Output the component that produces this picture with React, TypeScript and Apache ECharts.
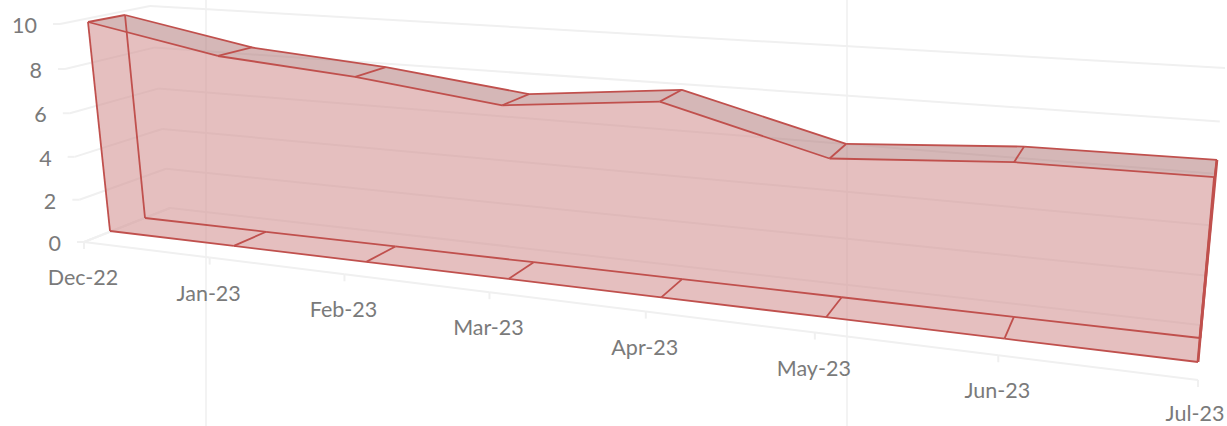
import React, { useEffect, useRef } from "react";
import * as echarts from "echarts";

const categories = ["Dec-22", "Jan-23", "Feb-23", "Mar-23", "Apr-23", "May-23", "Jun-23", "Jul-23"];
const frontValues = [10, 8.84, 8.35, 7.6, 8.25, 6.5, 6.95, 7.0];
const yTicks = [0, 2, 4, 6, 8, 10];
const yMax = 10;

const W = 1227;
const H = 426;
type P = [number, number];
// Perspective planes: corners at (first category, 0), (last, 0), (last, max), (first, max)
const frontQuad: P[] = [[110, 231], [1198, 362], [1222, 94], [88, 22]];
const backQuad: P[] = [[145, 218], [1200, 338], [1224.5, 80], [125, 15]];
const wallQuad: P[] = [[170, 208], [1200, 325], [1225, 68], [150, 6]];
const axisQuad: P[] = [[84, 242], [1198, 380], [1225, 98], [60, 24]];
const verticalRules = [206, 847];

const RED = "#c0504d";
const GRID = "#f0f0f0";
const TEXT = "#7a7a7a";
const FONT = "Lato";

function plane(q: P[]) {
  const [[x0, y0], [x1, y1], [x2, y2], [x3, y3]] = q;
  const dx1 = x1 - x2, dx2 = x3 - x2, dx3 = x0 - x1 + x2 - x3;
  const dy1 = y1 - y2, dy2 = y3 - y2, dy3 = y0 - y1 + y2 - y3;
  const den = dx1 * dy2 - dx2 * dy1;
  const g = (dx3 * dy2 - dx2 * dy3) / den;
  const h = (dx1 * dy3 - dx3 * dy1) / den;
  const a = x1 - x0 + g * x1, b = x3 - x0 + h * x3;
  const d = y1 - y0 + g * y1, e = y3 - y0 + h * y3;
  // input is a pixel of the flat hidden grid
  return (p: number[]): P => {
    const s = p[0] / W;
    const t = 1 - p[1] / H;
    const w = g * s + h * t + 1;
    return [(a * s + b * t + x0) / w, (d * s + e * t + y0) / w];
  };
}
const front = plane(frontQuad);
const back = plane(backQuad);
const wall = plane(wallQuad);
const axis = plane(axisQuad);

const line = (p: P, q: P, stroke: string, lineWidth: number) => ({
  type: "line",
  shape: { x1: p[0], y1: p[1], x2: q[0], y2: q[1] },
  style: { stroke, lineWidth, fill: "none" },
  silent: true,
});
const poly = (points: P[], fill: string) => ({
  type: "polygon",
  shape: { points },
  style: { fill, stroke: "none" },
  silent: true,
});
const label = (text: string, x: number, y: number, align: string) => ({
  type: "text",
  style: { text, x, y, fill: TEXT, fontFamily: FONT, fontSize: 21.5, align, verticalAlign: "middle" },
  silent: true,
});

export default function App() {
  const ref = useRef<HTMLDivElement>(null);
  useEffect(() => {
    document.body.style.margin = "0";
    const chart = echarts.init(ref.current!, undefined, { renderer: "svg" });
    const last = categories.length - 1;
    chart.setOption({
      animation: false,
      backgroundColor: "#ffffff",
      grid: { left: 0, right: 0, top: 0, bottom: 0 },
      xAxis: { type: "category", data: categories, boundaryGap: false, show: false },
      yAxis: { type: "value", min: 0, max: yMax, interval: 2, show: false },
      graphic: verticalRules.map((x) => ({
        type: "line",
        z: 0,
        shape: { x1: x, y1: 0, x2: x, y2: H },
        style: { stroke: "#f3f3f3", lineWidth: 2 },
        silent: true,
      })),
      series: [
        {
          name: "value gridlines",
          type: "custom",
          z: 1,
          silent: true,
          clip: false,
          encode: { x: 0, y: 1 },
          data: yTicks.map((v) => [0, v]),
          renderItem: (_p: any, api: any) => {
            const v = api.value(1);
            const left = api.coord([0, v]);
            const right = api.coord([last, v]);
            const a = axis(left);
            return {
              type: "group",
              children: [
                line(wall(left), wall(right), GRID, 2),
                line(a, wall(left), GRID, 2),
                line([a[0] - 7, a[1]], a, GRID, 2),
                label(String(v), a[0] - 23, a[1] + 1, "right"),
              ],
            };
          },
        },
        {
          name: "category axis",
          type: "custom",
          z: 1,
          silent: true,
          clip: false,
          encode: { x: 0, y: 1 },
          data: categories.map((_c, i) => [i, 0]),
          renderItem: (p: any, api: any) => {
            const i = api.value(0);
            const here = axis(api.coord([i, 0]));
            const children: any[] = [
              line(here, [here[0], here[1] + 7], GRID, 2),
              label(categories[i], here[0] - (i === last ? 3 : 1), here[1] + (i === last ? 33 : 35), "center"),
            ];
            if (i < last) children.push(line(here, axis(api.coord([i + 1, 0])), GRID, 2));
            if (i === 0) children.push(line(here, wall(api.coord([0, 0])), GRID, 2));
            return { type: "group", children };
          },
        },
        {
          name: "Series",
          type: "custom",
          z: 3,
          silent: true,
          clip: false,
          encode: { x: 0, y: 1 },
          data: frontValues.map((v, i) => [i, v]),
          renderItem: (p: any, api: any) => {
            const i = api.value(0);
            const v = api.value(1);
            const here = api.coord([i, v]);
            const base = api.coord([i, 0]);
            const children: any[] = [];
            if (i === 0) {
              const tops = frontValues.map((val, k) => front(api.coord([k, val])));
              children.push(
                poly([...tops, front(api.coord([last, 0])), front(base)], "rgba(212,148,148,0.6)"),
              );
            }
            const ft = front(here), bt = back(here), fb = front(base), bb = back(base);
            if (i < last) {
              const nextV = frontValues[i + 1];
              const nt = api.coord([i + 1, nextV]);
              const nb = api.coord([i + 1, 0]);
              children.push(poly([ft, bt, back(nt), front(nt)], "rgba(171,111,111,0.5)"));
              children.push(line(ft, front(nt), RED, 1.8));
              children.push(line(bt, back(nt), RED, 1.8));
              children.push(line(fb, front(nb), RED, 1.8));
              children.push(line(bb, back(nb), RED, 1.8));
            }
            children.push(line(ft, bt, RED, 1.8));
            if (i > 0) children.push(line(fb, bb, RED, 1.8));
            if (i === 0 || i === last) {
              const w = i === last ? 2.8 : 1.8;
              children.push(line(ft, fb, RED, w));
              children.push(line(bt, bb, RED, w));
            }
            return { type: "group", children };
          },
        },
      ],
    });
    return () => chart.dispose();
  }, []);
  return <div ref={ref} style={{ position: "fixed", left: 0, top: 0, width: W, height: H }} />;
}
